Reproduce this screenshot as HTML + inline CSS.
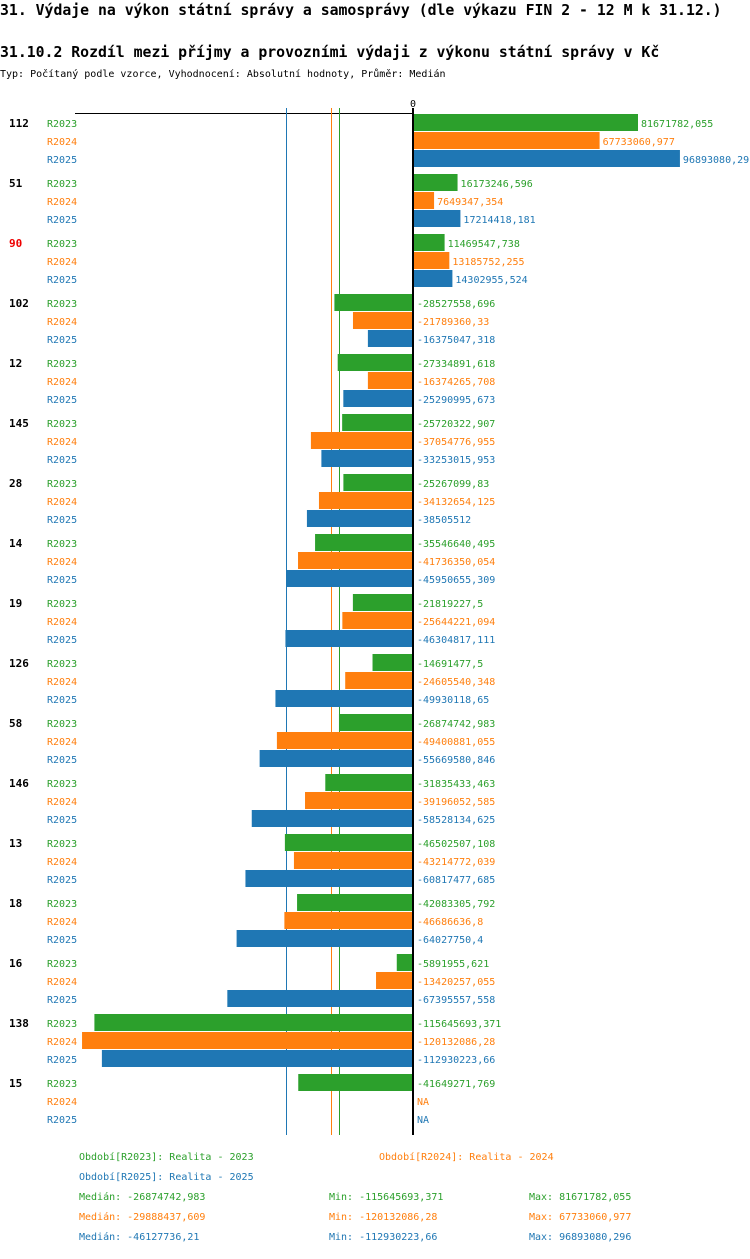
<!DOCTYPE html>
<html><head><meta charset="utf-8"><style>
body{margin:0;background:#fff;width:750px;height:1254px;overflow:hidden}
svg text{font-family:"DejaVu Sans Mono","Liberation Mono",monospace}
</style></head><body>
<svg id="c" width="750" height="1254" xmlns="http://www.w3.org/2000/svg">
<text x="0" y="15" font-size="14.8" font-weight="bold" font-family="Liberation Mono">31. Výdaje na výkon státní správy a samosprávy (dle výkazu FIN 2 - 12 M k 31.12.)</text>
<text x="0" y="57" font-size="14.8" font-weight="bold" font-family="Liberation Mono">31.10.2 Rozdíl mezi příjmy a provozními výdaji z výkonu státní správy v Kč</text>
<text x="0" y="77" font-size="10">Typ: Počítaný podle vzorce, Vyhodnocení: Absolutní hodnoty, Průměr: Medián</text>
<g id="g"></g>
</svg>
<script>
const groups=["112","51","90","102","12","145","28","14","19","126","58","146","13","18","16","138","15"];
const s2023=[81671782.055,16173246.596,11469547.738,-28527558.696,-27334891.618,-25720322.907,-25267099.83,-35546640.495,-21819227.5,-14691477.5,-26874742.983,-31835433.463,-46502507.108,-42083305.792,-5891955.621,-115645693.371,-41649271.769];
const s2024=[67733060.977,7649347.354,13185752.255,-21789360.33,-16374265.708,-37054776.955,-34132654.125,-41736350.054,-25644221.094,-24605540.348,-49400881.055,-39196052.585,-43214772.039,-46686636.8,-13420257.055,-120132086.28,null];
const s2025=[96893080.29,17214418.181,14302955.524,-16375047.318,-25290995.673,-33253015.953,-38505512,-45950655.309,-46304817.111,-49930118.65,-55669580.846,-58528134.625,-60817477.685,-64027750.4,-67395557.558,-112930223.66,null];
const labels2023=["81671782,055","16173246,596","11469547,738","-28527558,696","-27334891,618","-25720322,907","-25267099,83","-35546640,495","-21819227,5","-14691477,5","-26874742,983","-31835433,463","-46502507,108","-42083305,792","-5891955,621","-115645693,371","-41649271,769"];
const labels2024=["67733060,977","7649347,354","13185752,255","-21789360,33","-16374265,708","-37054776,955","-34132654,125","-41736350,054","-25644221,094","-24605540,348","-49400881,055","-39196052,585","-43214772,039","-46686636,8","-13420257,055","-120132086,28","NA"];
const labels2025=["96893080,29","17214418,181","14302955,524","-16375047,318","-25290995,673","-33253015,953","-38505512","-45950655,309","-46304817,111","-49930118,65","-55669580,846","-58528134,625","-60817477,685","-64027750,4","-67395557,558","-112930223,66","NA"];
const medians=[-26874742.983,-29888437.609,-46127736.21];
const seriesNames=["R2023","R2024","R2025"];
const colors=["#2ca02c","#ff7f0e","#1f77b4"];
const X0=413,K=225/81671782.055;
const x=v=>X0+v*K;
const y=(g,i)=>123+g*60+i*18;
const G=document.getElementById('g');
const NS="http://www.w3.org/2000/svg";
function mk(t,a,txt){const e=document.createElementNS(NS,t);for(const k in a)e.setAttribute(k,a[k]);if(txt!==undefined)e.textContent=txt;G.appendChild(e);return e;}
let e;
e=mk('line',{x1:75,y1:113.5,x2:413,y2:113.5,stroke:'#000'});


e=mk('text',{x:X0,y:107,'font-size':10,'text-anchor':'middle'},'0');


medians.forEach((m,i)=>{
  e=mk('rect',{x:Math.round(x(m)),y:108,width:1,height:1027,fill:colors[i]});
  
  
});
const data=[s2023,s2024,s2025],labs=[labels2023,labels2024,labels2025];
groups.forEach((gname,g)=>{
  e=mk('text',{x:9,y:y(g,0)+4,'font-size':11,'font-weight':'bold',fill:gname==="90"?'#e00':'#000'},gname);
  
  
  for(let i=0;i<3;i++){
    const cy=y(g,i),v=data[i][g];
    e=mk('text',{x:47,y:cy+4,'font-size':10,fill:colors[i]},seriesNames[i]);
    
    
    let tx=X0+4;
    if(v!==null){
      const a=Math.min(x(v),X0),w=Math.abs(x(v)-X0);
      e=mk('rect',{x:a,y:cy-9,width:w,height:17,fill:colors[i]});
      
      
      if(v>0)tx=x(v)+3;
    }
    e=mk('text',{x:tx,y:cy+4,'font-size':10,fill:colors[i]},labs[i][g]);
    
    
  }
});
e=mk('line',{x1:X0,y1:108,x2:X0,y2:1135,stroke:'#000','stroke-width':2});


const leg=[[79,1160,"Období[R2023]: Realita - 2023",0],[379,1160,"Období[R2024]: Realita - 2024",1],[79,1180,"Období[R2025]: Realita - 2025",2],
[79,1200,"Medián: -26874742,983",0],[329,1200,"Min: -115645693,371",0],[529,1200,"Max: 81671782,055",0],
[79,1220,"Medián: -29888437,609",1],[329,1220,"Min: -120132086,28",1],[529,1220,"Max: 67733060,977",1],
[79,1240,"Medián: -46127736,21",2],[329,1240,"Min: -112930223,66",2],[529,1240,"Max: 96893080,296",2]];
leg.forEach(l=>{
  e=mk('text',{x:l[0],y:l[1],'font-size':10,fill:colors[l[3]]},l[2]);
  
  
});
</script>
</body></html>
